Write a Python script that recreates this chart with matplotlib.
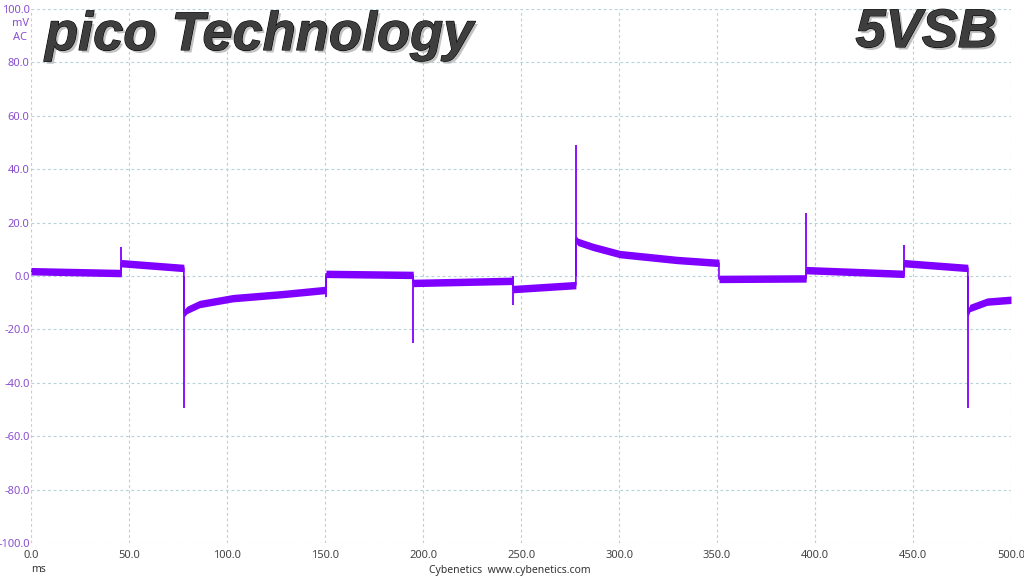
import numpy as np
import matplotlib
matplotlib.use("Agg")
import matplotlib.pyplot as plt
import matplotlib.patheffects as pe

# ----------------------------------
# DATA (read off the scope capture)
# ----------------------------------

# main trace vertices, ms / mV (duplicate times = load steps)
trace_t = [0, 46, 46, 78, 78, 79.6, 86, 103, 128, 150.5,
           150.5, 195, 195, 246, 246, 278, 278, 279, 286.7, 300.5,
           329.6, 351, 351, 395.5, 395.5, 445.5, 445.5, 478, 478, 479,
           487.8, 500]
trace_v = [1.8, 1.1, 4.8, 3.0, -14.0, -12.7, -10.5, -8.3, -6.8, -5.2,
           0.8, 0.4, -2.6, -1.8, -4.9, -3.4, 13.8, 12.8, 10.9, 8.2,
           6.0, 4.9, -1.1, -0.9, 2.2, 0.8, 4.8, 3.0, -14.0, -12.0,
           -9.6, -8.9]

# transient spikes at each step
spike_t = [46, 78, 150.5, 195, 246, 278, 395.5, 445.5, 478]
spike_v = [11.0, -49.5, -7.7, -25.0, -11.0, 49.0, 23.6, 11.6, -49.5]

band_half = 1.4   # half thickness of the noisy band, mV

x_ticks = [0, 50, 100, 150, 200, 250, 300, 350, 400, 450, 500]
y_ticks = [-100, -80, -60, -40, -20, 0, 20, 40, 60, 80, 100]

trace_color = "#7f00ff"
label_purple = "#8a4fd0"
grid_color = "#b4d3d8"

# ----------------------------------
# PLOT
# ----------------------------------

fig = plt.figure(figsize=(10.24, 5.76), dpi=100)
ax = fig.add_axes([31 / 1024, 1 - 543 / 576, 980 / 1024, 534 / 576])

t = np.array(trace_t)
v = np.array(trace_v)

ax.fill_between(t, v - band_half, v + band_half, color=trace_color,
                linewidth=0, zorder=3)
ax.plot(t, v, color=trace_color, lw=1.2, zorder=3)
ax.vlines(spike_t, 0, spike_v, color=trace_color, lw=1.3, zorder=3)

ax.set_xlim(0, 500)
ax.set_ylim(-100, 100)
ax.set_xticks(x_ticks)
ax.set_yticks(y_ticks)
ax.set_xticklabels([f"{x:.1f}" for x in x_ticks])
ax.set_yticklabels([f"{y:.1f}" for y in y_ticks])

ax.grid(True, color=grid_color, lw=0.8, linestyle=(0, (2.5, 2.5)))
for s in ax.spines.values():
    s.set_visible(False)

ax.tick_params(axis="both", length=0, labelsize=8)
ax.tick_params(axis="x", pad=5, labelcolor="#444444")
ax.tick_params(axis="y", pad=1, labelcolor=label_purple)
for lab in ax.get_xticklabels() + ax.get_yticklabels():
    lab.set_fontfamily("Noto Sans")

# unit labels
fig.text(29 / 1024, 1 - 24 / 576, "mV", ha="right", va="center",
         fontsize=8, color=label_purple, family="Noto Sans")
fig.text(27 / 1024, 1 - 38 / 576, "AC", ha="right", va="center",
         fontsize=8, color=label_purple, family="Noto Sans")
fig.text(38 / 1024, 1 - 570 / 576, "ms", ha="center", va="center",
         fontsize=7.5, color="#333333", family="Noto Sans")
fig.text(510 / 1024, 1 - 570 / 576, "Cybenetics  www.cybenetics.com",
         ha="center", va="center", fontsize=7.5, color="#333333",
         family="Noto Sans")

# big headings with a soft shadow
fx = [pe.SimplePatchShadow(offset=(1.8, -1.8), shadow_rgbFace="#9a9a9a",
                           alpha=0.6),
      pe.Stroke(linewidth=0.8, foreground="#000000"),
      pe.Normal()]
fig.text(45 / 1024, 1 - 50 / 576, "pico Technology", ha="left",
         va="baseline", fontsize=39, fontweight="bold", style="italic",
         family="Liberation Sans", color="#3e3e3e", path_effects=fx,
         zorder=5)
fig.text(997 / 1024, 1 - 47 / 576, "5VSB", ha="right", va="baseline",
         fontsize=39, fontweight="bold", style="italic",
         family="Liberation Sans", color="#3e3e3e", path_effects=fx,
         zorder=5)

fig.savefig("out.png", dpi=100)
